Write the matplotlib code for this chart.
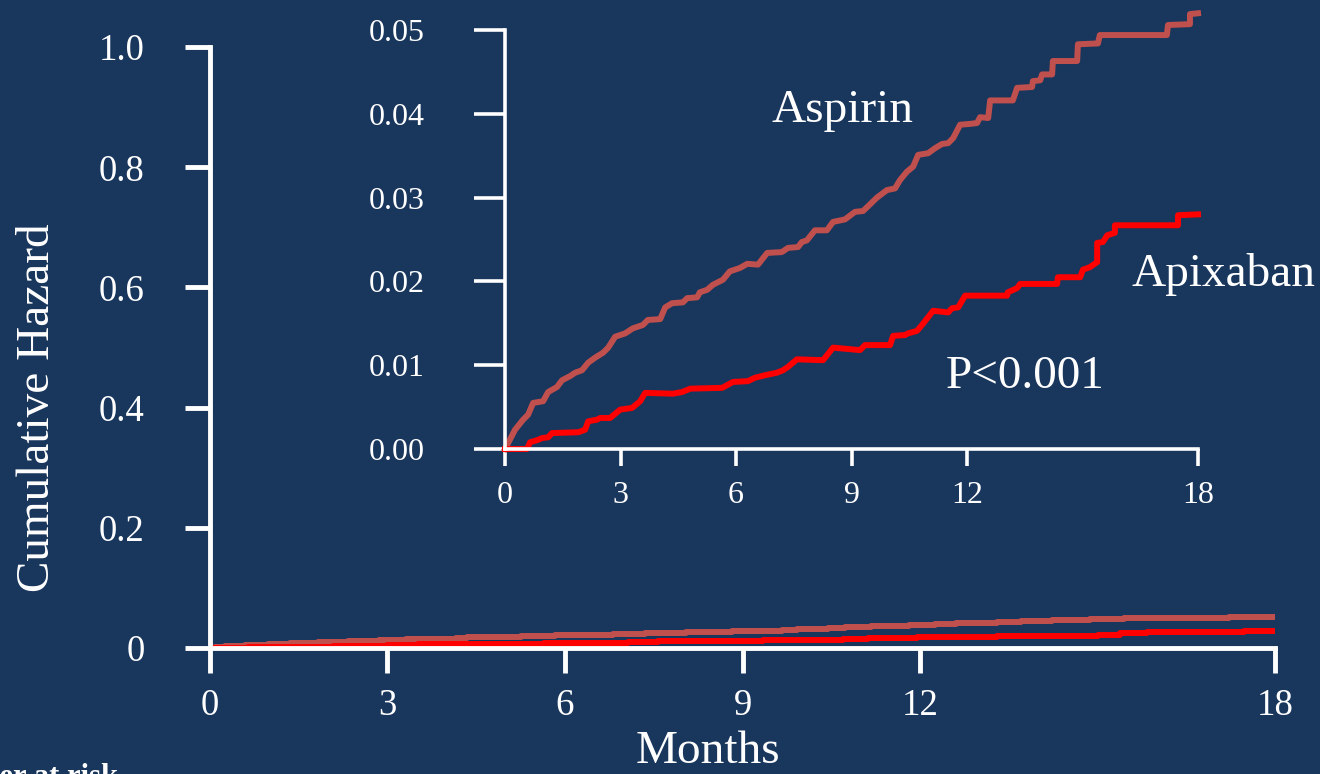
import matplotlib.pyplot as plt
import numpy as np

plt.rcParams['font.family'] = ['Liberation Serif', 'DejaVu Serif']

BG = '#19365d'
ASA_COL = '#c0504d'
APX_COL = '#ff0000'

# cumulative hazard curves, months vs hazard
asa_months = [0.00, 0.08, 0.26, 0.47, 0.60, 0.73, 0.99, 1.12, 1.35, 1.48, 1.69, 1.82, 2.00,
              2.16, 2.34, 2.55, 2.68, 2.86, 3.12, 3.32, 3.58, 3.71, 4.03, 4.16, 4.34, 4.62,
              4.73, 4.99, 5.06, 5.25, 5.40, 5.66, 5.84, 6.10, 6.29, 6.57, 6.81, 7.19, 7.35,
              7.61, 7.71, 7.84, 8.05, 8.36, 8.52, 8.83, 9.09, 9.30, 9.66, 9.92, 10.13, 10.26,
              10.44, 10.60, 10.73, 10.99, 11.17, 11.35, 11.51, 11.64, 11.82, 12.08, 12.26,
              12.34, 12.55, 12.60, 13.19, 13.30, 13.69, 13.71, 13.90, 13.95, 14.21, 14.23,
              14.86, 14.88, 15.40, 15.45, 17.19, 17.22, 17.79, 17.79, 18.00]
asa_haz = [0.0000, 0.0007, 0.0023, 0.0035, 0.0041, 0.0055, 0.0057, 0.0068, 0.0074, 0.0082,
           0.0087, 0.0091, 0.0094, 0.0103, 0.0109, 0.0115, 0.0121, 0.0134, 0.0138, 0.0144,
           0.0148, 0.0154, 0.0155, 0.0169, 0.0174, 0.0175, 0.0180, 0.0181, 0.0187, 0.0190,
           0.0196, 0.0202, 0.0212, 0.0216, 0.0221, 0.0220, 0.0234, 0.0235, 0.0240, 0.0241,
           0.0247, 0.0249, 0.0261, 0.0261, 0.0271, 0.0274, 0.0283, 0.0284, 0.0300, 0.0309,
           0.0311, 0.0321, 0.0331, 0.0337, 0.0351, 0.0353, 0.0359, 0.0364, 0.0365, 0.0371,
           0.0387, 0.0388, 0.0389, 0.0396, 0.0395, 0.0416, 0.0416, 0.0431, 0.0432, 0.0439,
           0.0440, 0.0447, 0.0447, 0.0463, 0.0463, 0.0483, 0.0484, 0.0494, 0.0494, 0.0506,
           0.0507, 0.0519, 0.0520]

apx_months = [0.00, 0.57, 0.65, 0.86, 0.96, 1.12, 1.22, 1.90, 2.08, 2.16, 2.39, 2.47, 2.73,
              2.99, 3.30, 3.51, 3.64, 4.36, 4.60, 4.81, 5.64, 5.92, 6.31, 6.49, 6.75, 7.06,
              7.22, 7.35, 7.58, 8.26, 8.52, 9.22, 9.35, 10.00, 10.08, 10.39, 10.47, 10.70,
              10.83, 11.12, 11.51, 11.61, 11.77, 11.95, 13.04, 13.06, 13.30, 13.38, 14.34,
              14.36, 14.94, 15.01, 15.19, 15.38, 15.38, 15.53, 15.64, 15.84, 15.84, 17.48,
              17.48, 18.00]
apx_haz = [0.0000, 0.0000, 0.0008, 0.0011, 0.0013, 0.0014, 0.0019, 0.0020, 0.0023, 0.0033,
           0.0035, 0.0037, 0.0037, 0.0047, 0.0049, 0.0057, 0.0067, 0.0066, 0.0068, 0.0072,
           0.0073, 0.0080, 0.0081, 0.0085, 0.0088, 0.0091, 0.0094, 0.0098, 0.0107, 0.0106,
           0.0121, 0.0118, 0.0124, 0.0124, 0.0135, 0.0136, 0.0138, 0.0141, 0.0148, 0.0165,
           0.0163, 0.0168, 0.0169, 0.0183, 0.0183, 0.0187, 0.0192, 0.0197, 0.0197, 0.0205,
           0.0205, 0.0214, 0.0217, 0.0223, 0.0246, 0.0247, 0.0255, 0.0258, 0.0267, 0.0267,
           0.0279, 0.0280]

main_xticks = [0, 3, 6, 9, 12, 18]
main_yticks = [0, 0.2, 0.4, 0.6, 0.8, 1.0]
main_ylabels = ['0', '0.2', '0.4', '0.6', '0.8', '1.0']
inset_yticks = [0, 0.01, 0.02, 0.03, 0.04, 0.05]
inset_ylabels = ['0.00', '0.01', '0.02', '0.03', '0.04', '0.05']

fig = plt.figure(figsize=(13.2, 7.74), dpi=100)
fig.patch.set_facecolor(BG)


def style_axes(ax, lw, xlen, ylen, xpad, ypad, size):
    ax.set_facecolor('none')
    for s in ['top', 'right']:
        ax.spines[s].set_visible(False)
    for s in ['left', 'bottom']:
        ax.spines[s].set_color('white')
        ax.spines[s].set_linewidth(lw)
    ax.tick_params(axis='x', colors='white', length=xlen, width=lw, pad=xpad, labelsize=size)
    ax.tick_params(axis='y', colors='white', length=ylen, width=lw, pad=ypad, labelsize=size)


# main plot, full 0-1 scale
ax = fig.add_axes([0.159, 0.163, 0.807, 0.776])
ax.plot(asa_months, asa_haz, color=ASA_COL, lw=4.3, drawstyle='steps-post')
ax.plot(apx_months, apx_haz, color=APX_COL, lw=4.3, drawstyle='steps-post')
ax.set_xlim(0, 18)
ax.set_ylim(0, 1.0)
ax.set_xticks(main_xticks)
ax.set_yticks(main_yticks)
ax.set_yticklabels(main_ylabels)
style_axes(ax, 3.5, 18, 18, 11, 29, 26.5)
ax.set_ylabel('Cumulative Hazard', color='white', fontsize=34)
ax.yaxis.set_label_coords(-0.142, 0.40)
ax.set_xlabel('Months', color='white', fontsize=34)
ax.xaxis.set_label_coords(0.468, -0.138)

# zoomed inset, curves run slightly past the 0.05 top
axi = fig.add_axes([0.3826, 0.4199, 0.525, 0.5413])
axi.plot(asa_months, asa_haz, color=ASA_COL, lw=4.3, clip_on=False, solid_joinstyle='round')
axi.plot(apx_months, apx_haz, color=APX_COL, lw=4.3, clip_on=False, solid_joinstyle='round')
axi.set_xlim(0, 18)
axi.set_ylim(0, 0.05)
axi.set_xticks(main_xticks)
axi.set_yticks(inset_yticks)
axi.set_yticklabels(inset_ylabels)
style_axes(axi, 2.6, 12, 22, 11, 36, 23)

fig.text(772 / 1320, 1 - 122 / 774, 'Aspirin', color='white', fontsize=34, va='baseline')
fig.text(1132 / 1320, 1 - 286 / 774, 'Apixaban', color='white', fontsize=34, va='baseline')
fig.text(946 / 1320, 1 - 388 / 774, 'P<0.001', color='white', fontsize=34, va='baseline')
fig.text(118 / 1320, 1 - 763 / 774, 'Number at risk', color='white', fontsize=22,
         fontweight='bold', ha='right', va='top')

fig.savefig('out.png', dpi=100, facecolor=BG)
